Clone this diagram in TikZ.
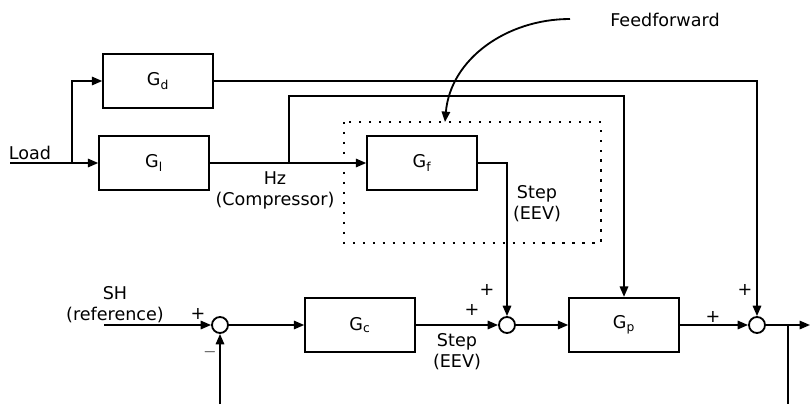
\documentclass[tikz,border=0pt]{standalone}
\usepackage{fontspec}
\setmainfont{DejaVu Sans}
\usetikzlibrary{arrows.meta}
\begin{document}
\begin{tikzpicture}[x=0.025cm, y=-0.025cm, line width=1.3pt,
    font=\fontsize{12.5}{15}\selectfont,
    block/.style={draw, rectangle, minimum width=2.74cm, minimum height=1.36cm},
    sum/.style={draw, circle, minimum size=0.4cm, inner sep=0pt},
    >={Triangle[length=2.6mm, width=2.1mm]}]
  \useasboundingbox (0,0) rectangle (810,404);
  \draw
    (158,81) node[block] (gd){G\textsubscript{d}}
    (154,163) node[block] (gl){G\textsubscript{l}}
    (422,163) node[block] (gf){G\textsubscript{f}}
    (360,325) node[block] (gc){G\textsubscript{c}}
    (624,325) node[block] (gp){G\textsubscript{p}}
    (220,325) node[sum] (s1){}
    (507,325) node[sum] (s2){}
    (757,325) node[sum] (s3){};
  \coordinate (load) at (10,163);
  \coordinate (split) at (72,163);
  \coordinate (hz) at (289,163);
  \coordinate (sh) at (104,325);
  \coordinate (out) at (810,325);
  \coordinate (meas) at (788,325);
  \coordinate (ffstart) at (570,19);
  \coordinate (ffend) at (445,122);
  % feedforward frame
  \draw[line width=1.6pt, dash pattern=on 1.6pt off 5.5pt] (344,122) rectangle (601,243);
  \begin{scope}[->]
    \draw (load) -- (gl);
    \draw (split) |- (gd);
    \draw (gl) -- (gf);
    \draw (hz) -- (289,96) -| (gp);
    \draw (gd) -| (s3);
    \draw (gf) -| (s2);
    \draw (sh) -- (s1);
    \draw (s1) -- (gc);
    \draw (gc) -- (s2);
    \draw (s2) -- (gp);
    \draw (gp) -- (s3);
    \draw (s3) -- (out);
    \draw (220,404) -- (s1);
    \draw (ffstart) to[out=180, in=85] (ffend);
  \end{scope}
  \draw (meas) -- (788,404);
  % labels
  \node (tload) at (30,153) {Load};
  \node[align=center] (thz) at (275,190) {Hz\\(Compressor)};
  \node[align=center] (tstepf) at (537,204) {Step\\(EEV)};
  \node[align=center] (tstepc) at (457,352) {Step\\(EEV)};
  \node[align=center] (tsh) at (115,305) {SH\\(reference)};
  \node (tff) at (665,20) {Feedforward};
  \node (p1) at (198,314) {+};
  \node (m1) at (210,352) {$-$};
  \node (p2) at (472,310) {+};
  \node (p3) at (487,290) {+};
  \node (p4) at (713,317) {+};
  \node (p5) at (745,290) {+};
\end{tikzpicture}
\end{document}
